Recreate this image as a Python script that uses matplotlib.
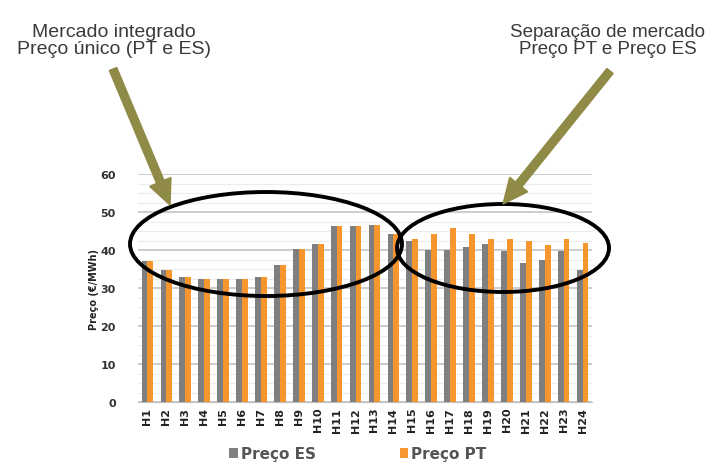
import numpy as np
import matplotlib.pyplot as plt
from matplotlib.patches import Ellipse, FancyArrow

# Preços horários (€/MWh)
horas = ["H" + str(i) for i in range(1, 25)]
preco_es = [37.0, 34.7, 32.8, 32.3, 32.3, 32.3, 33.0, 36.0, 40.2, 41.6, 46.4, 46.4,
            46.7, 44.2, 42.5, 40.1, 40.1, 40.9, 41.6, 39.7, 36.6, 37.3, 39.8, 34.7]
preco_pt = [37.0, 34.7, 32.8, 32.3, 32.3, 32.3, 33.0, 36.0, 40.2, 41.6, 46.4, 46.4,
            46.7, 44.2, 42.9, 44.1, 45.8, 44.1, 42.9, 42.9, 42.5, 41.3, 42.9, 41.8]
y_ticks = [0, 10, 20, 30, 40, 50, 60]

W, H = 714, 464
fig = plt.figure(figsize=(W / 100, H / 100), dpi=100)
ax = fig.add_axes([138 / W, 1 - 403 / H, 454 / W, 228 / H])


def fx(px):
    return px / W


def fy(py):
    return 1 - py / H


x = np.arange(len(horas))
bw = 0.31
ax.bar(x - bw / 2, preco_es, bw, color="#7f7f7f", label="Preço ES", zorder=3)
ax.bar(x + bw / 2, preco_pt, bw, color="#f7962f", label="Preço PT", zorder=3)

ax.set_xlim(-0.5, len(horas) - 0.5)
ax.set_ylim(0, 60)
ax.set_yticks(y_ticks)
ax.set_yticks(np.arange(0, 60, 2.5), minor=True)
ax.grid(axis="y", which="major", color="#c4c4c4", linewidth=1.2, zorder=0)
ax.grid(axis="y", which="minor", color="#ececec", linewidth=0.8, zorder=0)
ax.tick_params(which="both", length=0)
ax.set_xticks(x)
ax.set_xticklabels(horas, rotation=90, fontsize=8, fontweight="bold", color="#222222")
for lab in ax.get_yticklabels():
    lab.set_fontsize(8)
    lab.set_fontweight("bold")
    lab.set_color("#333333")
ax.tick_params(axis="y", pad=16)
for s in ["top", "right", "left"]:
    ax.spines[s].set_visible(False)
ax.spines["bottom"].set_color("#bdbdbd")
ax.set_ylabel("Preço (€/MWh)", fontsize=7, fontweight="bold", color="#222222", labelpad=1)

# Legenda
fig.legend(loc="center", bbox_to_anchor=(fx(358), fy(455)), ncol=2, frameon=False,
           handlelength=0.55, handleheight=0.55, handletextpad=0.2, columnspacing=5.5,
           prop={"size": 11, "weight": "bold"}, labelcolor="#555555")

# Elipses
fig.patches.append(Ellipse((fx(266), fy(245)), 272 / W, 104 / H, transform=fig.transFigure,
                           fill=False, edgecolor="black", linewidth=2.8, zorder=5))
fig.patches.append(Ellipse((fx(503), fy(249)), 212 / W, 88 / H, transform=fig.transFigure,
                           fill=False, edgecolor="black", linewidth=2.8, zorder=5))

# Setas
olive = "#8f8a45"
for (x0, y0), (x1, y1) in [((113, 70), (170, 206)), ((610, 72), (503, 205))]:
    a0, b0, a1, b1 = x0, H - y0, x1, H - y1
    arr = FancyArrow(a0, b0, a1 - a0, b1 - b0, width=8, head_width=23, head_length=25,
                     length_includes_head=True, color=olive, transform=None, zorder=6)
    fig.patches.append(arr)

# Textos
fig.text(fx(114), fy(41), "Mercado integrado\nPreço único (PT e ES)", ha="center", va="center",
         fontsize=14, color="#3a3a3a", linespacing=1.05, family="Liberation Sans")
fig.text(fx(608), fy(41), "Separação de mercado\nPreço PT e Preço ES", ha="center", va="center",
         fontsize=13.5, color="#3a3a3a", linespacing=1.05, family="Liberation Sans")

plt.savefig("out.png", dpi=100)
